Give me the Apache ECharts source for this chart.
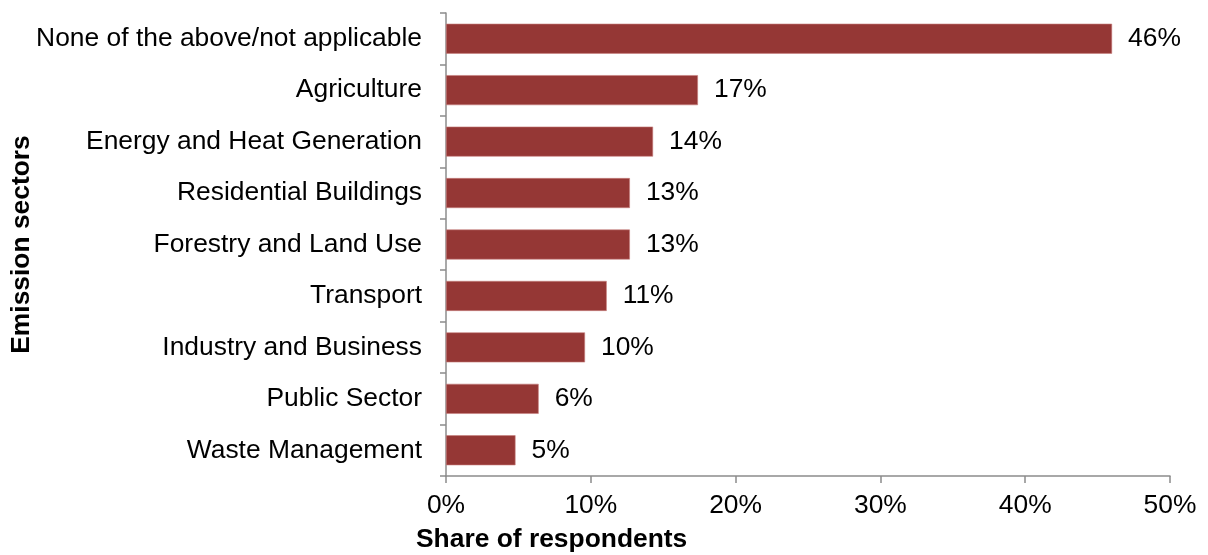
<!DOCTYPE html>
<html>
<head>
<meta charset="utf-8">
<script src="https://cdn.jsdelivr.net/npm/echarts@6/dist/echarts.min.js"></script>
<style>
  html, body { margin: 0; padding: 0; background: #fff; }
  #chart { width: 1208px; height: 555px; }
</style>
</head>
<body>
<div id="chart"></div>
<script>
// Emission sectors and share of respondents (%)
const sectors = [
  'None of the above/not applicable',
  'Agriculture',
  'Energy and Heat Generation',
  'Residential Buildings',
  'Forestry and Land Use',
  'Transport',
  'Industry and Business',
  'Public Sector',
  'Waste Management'
];
const shares = [46.0, 17.4, 14.3, 12.7, 12.7, 11.1, 9.6, 6.4, 4.8];
const xTicks = [0, 10, 20, 30, 40, 50];

const FONT = '"Liberation Sans", Arial, sans-serif';
const AXIS_GREY = '#8c8c8c';
const FS = 26.4;

const chart = echarts.init(document.getElementById('chart'), null, { renderer: 'canvas' });

chart.setOption({
  animation: false,
  textStyle: { fontFamily: FONT },
  grid: { left: 446, right: 38, top: 13, bottom: 79, containLabel: false, outerBoundsMode: 'none' },
  xAxis: {
    type: 'value',
    min: xTicks[0],
    max: xTicks[xTicks.length - 1],
    interval: 10,
    axisLine: { show: true, lineStyle: { color: AXIS_GREY, width: 1.5 } },
    axisTick: { show: true, length: 7, lineStyle: { color: AXIS_GREY, width: 1.5 } },
    splitLine: { show: false },
    axisLabel: {
      margin: 17,
      color: '#000',
      fontSize: FS,
      fontFamily: FONT,
      formatter: v => v + '%'
    }
  },
  yAxis: {
    type: 'category',
    data: sectors,
    inverse: true,
    name: 'Emission sectors',
    nameLocation: 'middle',
    nameGap: 411,
    nameMoveOverlap: false,
    nameRotate: 90,
    nameTextStyle: { fontSize: FS, fontWeight: 'bold', color: '#000', fontFamily: FONT },
    axisLine: { show: true, lineStyle: { color: AXIS_GREY, width: 1.5 } },
    axisTick: { show: true, length: 6, alignWithLabel: false, lineStyle: { color: AXIS_GREY, width: 1.5 } },
    axisLabel: { margin: 24, color: '#000', fontSize: FS, fontFamily: FONT }
  },
  graphic: [{
    type: 'text',
    left: 416,
    top: 527,
    style: {
      text: 'Share of respondents',
      font: 'bold ' + FS + 'px ' + FONT,
      fill: '#000'
    }
  }],
  series: [{
    type: 'bar',
    data: shares,
    barWidth: 30,
    itemStyle: { color: '#953735', borderColor: '#c77f7d', borderWidth: 0.6 },
    label: {
      show: true,
      position: 'right',
      distance: 16,
      color: '#000',
      fontSize: FS,
      fontFamily: FONT,
      formatter: p => Math.round(p.value) + '%'
    }
  }]
});
</script>
</body>
</html>
